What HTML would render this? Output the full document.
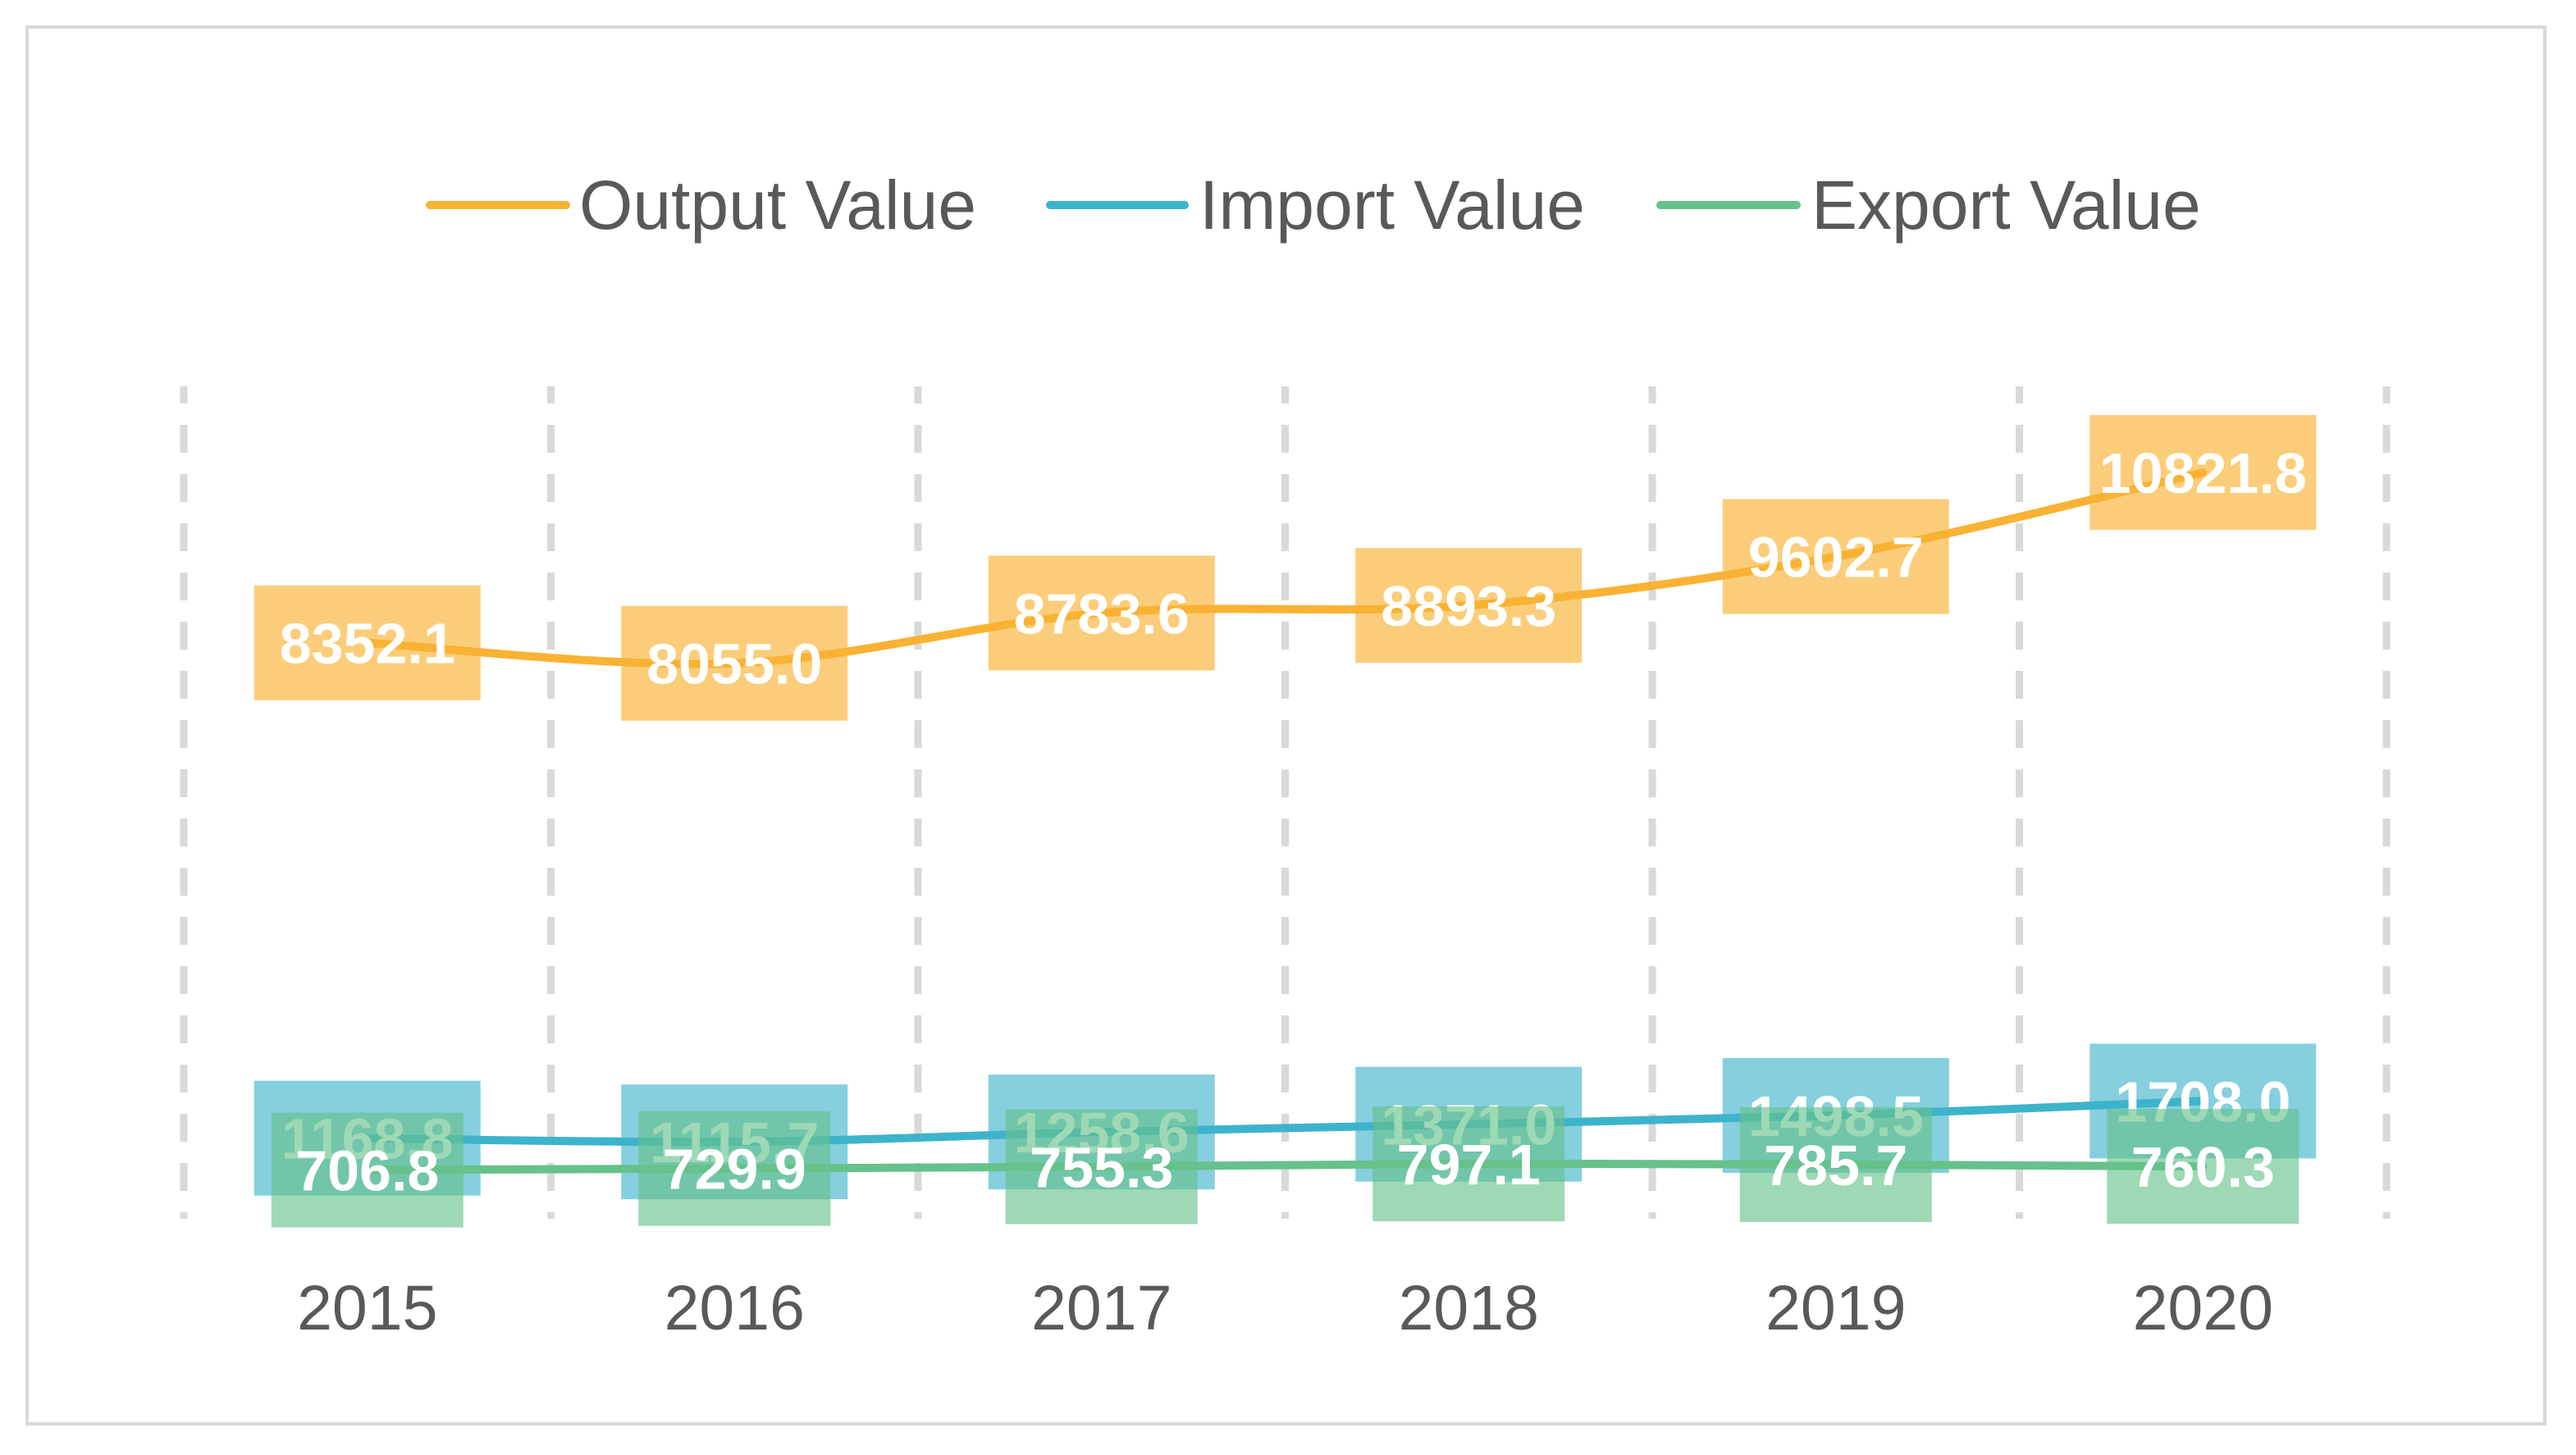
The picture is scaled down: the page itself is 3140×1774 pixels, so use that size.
<!DOCTYPE html>
<html><head><meta charset="utf-8"><style>
html,body{margin:0;padding:0;background:#fff;}
svg{display:block;font-family:"Liberation Sans","DejaVu Sans",sans-serif;}
</style></head><body>
<svg id="chart" width="3140" height="1774" viewBox="0 0 3140 1774" xmlns="http://www.w3.org/2000/svg">
<rect x="33" y="33" width="3069" height="1703" fill="#fff" stroke="#D9D9D9" stroke-width="4"/>
<g>
<g><line x1="524" y1="250" x2="690" y2="250" stroke="#F9B233" stroke-width="10" stroke-linecap="round"/><text x="706" y="279" font-size="84" fill="#595959">Output Value</text></g>
<g><line x1="1280" y1="250" x2="1444" y2="250" stroke="#3EB3CC" stroke-width="10" stroke-linecap="round"/><text x="1462" y="279" font-size="84" fill="#595959">Import Value</text></g>
<g><line x1="2024" y1="250" x2="2190" y2="250" stroke="#66C18A" stroke-width="10" stroke-linecap="round"/><text x="2208" y="279" font-size="84" fill="#595959">Export Value</text></g>
</g>
<g id="grid"></g><g id="xlabels"></g><g id="series"></g>
</svg>
<script>
const categories = ["2015","2016","2017","2018","2019","2020"];
const outputValues = [8352.1,8055.0,8783.6,8893.3,9602.7,10821.8];
const importValues = [1168.8,1115.7,1258.6,1371.0,1498.5,1708.0];
const exportValues = [706.8,729.9,755.3,797.1,785.7,760.3];
const yMin = 0, yMax = 12000;

const NS="http://www.w3.org/2000/svg";
const plotL=224, plotR=2909, plotTop=477, plotBottom=1486;
const step=(plotR-plotL)/categories.length;
function xPos(i){return plotL+step*(i+0.5);}
function yPos(v){return plotBottom-(v-yMin)/(yMax-yMin)*(plotBottom-plotTop);}
function mk(tag,attrs,parent){const e=document.createElementNS(NS,tag);for(const k in attrs)e.setAttribute(k,attrs[k]);parent.appendChild(e);return e;}

const grid=document.getElementById('grid');
for(let i=0;i<=categories.length;i++){
  const x=plotL+step*i;
  const l=mk('line',{x1:x,y1:plotBottom,x2:x,y2:471,stroke:'#D9D9D9','stroke-width':9,'stroke-dasharray':'34 26','stroke-dashoffset':26},grid);
  
  
}
const xl=document.getElementById('xlabels');
categories.forEach((c,i)=>{
  const t=mk('text',{x:xPos(i),y:1621,'font-size':77,fill:'#595959','text-anchor':'middle'},xl);
  t.textContent=c;
  
  
});

function smoothPath(vals){
  const p=vals.map((v,i)=>[xPos(i),yPos(v)]);
  let d='M'+p[0][0]+','+p[0][1];
  for(let i=0;i<p.length-1;i++){
    const p0=p[i-1]||p[i],p1=p[i],p2=p[i+1],p3=p[i+2]||p2;
    const c1=[p1[0]+(p2[0]-p0[0])/6,p1[1]+(p2[1]-p0[1])/6];
    const c2=[p2[0]-(p3[0]-p1[0])/6,p2[1]-(p3[1]-p1[1])/6];
    d+=' C'+c1[0]+','+c1[1]+' '+c2[0]+','+c2[1]+' '+p2[0]+','+p2[1];
  }
  return d;
}
const series=document.getElementById('series');
const defs=[
  {vals:outputValues,color:'#F9B233',rgba:'rgba(249,178,51,0.65)',w:276,name:'output'},
  {vals:importValues,color:'#3EB3CC',rgba:'rgba(62,179,204,0.63)',w:276,name:'import'},
  {vals:exportValues,color:'#66C18A',rgba:'rgba(102,193,138,0.63)',w:234,name:'export'}
];
defs.forEach(s=>{
  const g=mk('g',{},series);
  
  
  s.vals.forEach((v,i)=>{
    const r=mk('rect',{x:xPos(i)-s.w/2,y:yPos(v)-70,width:s.w,height:140,fill:s.rgba},g);
    
    
  });
  const path=mk('path',{d:smoothPath(s.vals),fill:'none',stroke:s.color,'stroke-width':10,'stroke-linecap':'round'},g);
  
  
  s.vals.forEach((v,i)=>{
    const t=mk('text',{x:xPos(i),y:yPos(v)+25,'font-size':70,'font-weight':'bold',fill:'#fff','text-anchor':'middle'},g);
    t.textContent=v.toFixed(1);
    
    
  });
});
</script>
</body></html>
